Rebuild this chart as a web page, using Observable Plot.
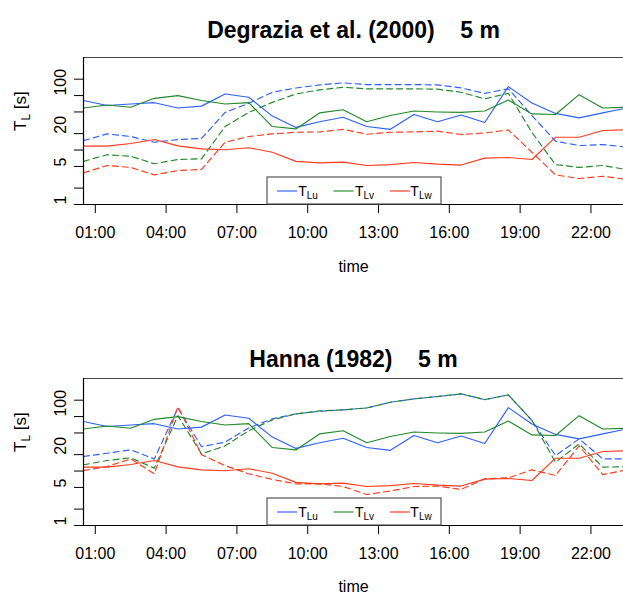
<!DOCTYPE html>
<html><head><meta charset="utf-8">
<script src="https://cdn.jsdelivr.net/npm/d3@7"></script>
<script src="https://cdn.jsdelivr.net/npm/@observablehq/plot@0.6"></script>
<style>
body{margin:0;background:#fff;}
#wrap{position:relative;width:623px;height:602px;overflow:hidden;font-family:"Liberation Sans",Arial,sans-serif;}
#wrap svg{position:absolute;left:0;overflow:hidden;}
</style></head><body><div id="wrap"></div>
<script>
// time of each observation (hours, half past)
const hours = [0.5,1.5,2.5,3.5,4.5,5.5,6.5,7.5,8.5,9.5,10.5,11.5,12.5,13.5,14.5,15.5,16.5,17.5,18.5,19.5,20.5,21.5,22.5,23.5];
const xTicks = [1,4,7,10,13,16,19,22];
const xTickLabels = ["01:00","04:00","07:00","10:00","13:00","16:00","19:00","22:00"];
const yTicks = [1,2,5,10,20,50,100,200];
const yLabelTicks = [1,5,20,100];
const yLabelTexts = ["1","5","20","100"];

// observed (solid)
const obsU = [81,65.6,70,74,59,64,107,93,42,26,33,40,27,24,45,33,44,32,146,73,47,39,48,59];
const obsV = [59,67,61,89,100,81,70,74,27,24.4,48,55,33,43,52,50,49,52,83,46,45,104,59,61];
const obsW = [11.8,11.8,13.2,15.6,11.9,10.5,10.1,11,9.1,6.2,5.8,6.0,5.2,5.4,5.9,5.5,5.3,7.1,7.3,6.7,17.2,17.2,22.8,23.5];
// Degrazia et al. (2000) (dashed)
const degU = [14.9,19.8,17.7,13.9,15.6,16.3,49,72,115,138,157,171,159,159,159,157,138,110,133,43,14.5,12.1,12.6,11.3];
const degV = [6.2,8.2,7.7,5.6,6.7,6.9,27,49,75,107,127,142,133,133,133,131,115,87,110,21,5.4,4.8,5.2,4.4];
const degW = [3.8,5.2,4.8,3.5,4.2,4.4,13.9,17.7,19.8,21.2,21.5,24,19.5,21.2,21.5,22.2,19.3,20.6,23.4,9.1,3.5,3.0,3.3,2.9];
// Hanna (1982) (dashed)
const hanU = [18.5,21.2,24.5,16.7,144,28,34,62,91,112,125,133,144,183,211,233,261,205,250,85,19.2,39,16.7,16.7];
const hanV = [13,15.6,17.5,11.3,104,20.6,29,55,87,112,127,133,144,183,211,233,261,205,250,85,14.5,31.5,11.8,12];
const hanW = [10.2,12.1,16.7,8.9,153,20,12.6,8.9,7.0,5.8,5.8,5.2,3.7,4.3,5.2,5.3,4.6,7.2,7.5,10.5,8.3,29,8.6,10.5];

const colU = "#2F5FFF", colV = "#23882A", colW = "#FF3B1E";
const legendItems = [["u", colU], ["v", colV], ["w", colW]];

function rows(arr){ return hours.map((h,i)=>({h, v: arr[i]})); }

function panel(title, model, top, mt, mb, titleDy, timeDy){
  const H = 301;
  const ln = (arr, color, dash) => Plot.line(rows(arr), {x:"h", y:"v", stroke: color, strokeWidth: 1.15, strokeDasharray: dash});
  const svg = Plot.plot({
    width: 623, height: H, marginLeft: 83, marginRight: 0, marginTop: mt, marginBottom: mb,
    style: {fontFamily: "'Liberation Sans', Arial, sans-serif", fontSize: "16px", color: "black", background: "white", overflow: "hidden"},
    x: {domain: [0.5, 23.38]},
    y: {type: "log", domain: [1, 500]},
    marks: [
      Plot.axisY({ticks: yTicks, tickFormat: () => "", tickSize: 9, label: null}),
      Plot.text(yLabelTicks, {y: d => d, text: (d, i) => yLabelTexts[i], frameAnchor: "left", dx: -23, rotate: -90, fontSize: 16}),
      Plot.axisX({ticks: xTicks, tickFormat: d => xTickLabels[xTicks.indexOf(d)], tickSize: 9, tickPadding: 13, label: null, fontSize: 16}),
      ln(model[0], colU, "6,4"), ln(model[1], colV, "6,4"), ln(model[2], colW, "6,4"),
      ln(obsU, colU, null), ln(obsV, colV, null), ln(obsW, colW, null),
      Plot.ruleY([500], {stroke: "#444", strokeWidth: 1.2}),
      Plot.ruleY([1], {stroke: "black", strokeWidth: 1.2}),
      Plot.ruleX([0.5], {stroke: "black", strokeWidth: 1.2}),
      Plot.text([title], {frameAnchor: "top", dy: titleDy, fontSize: 23, fontWeight: "bold"}),
      Plot.text(["time"], {frameAnchor: "bottom", dy: timeDy, fontSize: 16}),
      Plot.text(["TL [s]"], {frameAnchor: "left", dx: -63, rotate: -90, fontSize: 17})
    ]
  });
  svg.style.top = top + "px";
  const s = d3.select(svg);
  s.selectAll("text").filter(function(){ return this.textContent === "TL [s]"; })
    .html('T<tspan font-size="12" dy="4">L</tspan><tspan dy="-4"> [s]</tspan>');
  // legend box at bottom of panel
  const bx = 267, bw = 174, bh = 27, by = H - mb - bh;
  const g = s.append("g").attr("font-family", "'Liberation Sans', Arial, sans-serif");
  g.append("rect").attr("x", bx).attr("y", by).attr("width", bw).attr("height", bh)
    .attr("fill", "white").attr("stroke", "#555").attr("stroke-width", 1.2);
  legendItems.forEach(([c, col], i) => {
    const x0 = bx + 10 + i * 56.5, yc = by + 14;
    g.append("line").attr("x1", x0).attr("x2", x0 + 20).attr("y1", yc).attr("y2", yc)
      .attr("stroke", col).attr("stroke-width", 1.15);
    g.append("text").attr("x", x0 + 31).attr("y", yc + 5).attr("font-size", 14).attr("fill", "black")
      .html('T<tspan font-size="10" dy="3">L' + c + '</tspan>');
  });
  return svg;
}

const wrap = document.getElementById("wrap");
wrap.appendChild(panel("Degrazia et al. (2000)    5 m", [degU, degV, degW], 0, 57, 97, -36, 67));
wrap.appendChild(panel("Hanna (1982)    5 m", [hanU, hanV, hanW], 301, 77, 77, -28, 66));
</script>
</body></html>
